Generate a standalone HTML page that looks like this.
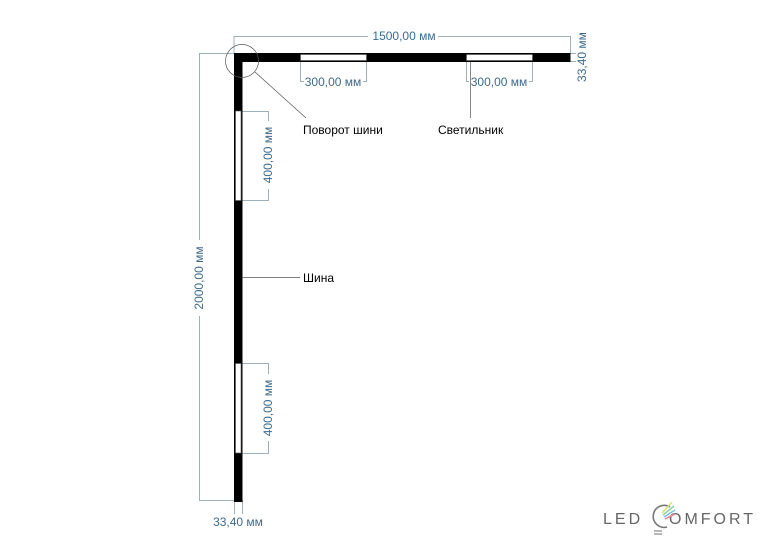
<!DOCTYPE html>
<html><head><meta charset="utf-8"><style>
html,body{margin:0;padding:0;background:#fff;}
svg{display:block;}
.d{fill:#3f6a8c;font-family:"Liberation Sans",sans-serif;font-size:12px;}
.b{fill:#000;font-family:"Liberation Sans",sans-serif;font-size:12px;}
</style></head><body>
<svg width="768" height="550" viewBox="0 0 768 550" xmlns="http://www.w3.org/2000/svg">
<g stroke="#9fb0bc" stroke-width="1" fill="none">
  <polyline points="234,53 234,36.5 368,36.5"/>
  <polyline points="438,36.5 570.5,36.5 570.5,53"/>
  <polyline points="234,53.5 199.5,53.5 199.5,240"/>
  <polyline points="199.5,316 199.5,500.5 234,500.5"/>
  <line x1="234.5" y1="500" x2="234.5" y2="514"/>
  <line x1="242.5" y1="500" x2="242.5" y2="514"/>
  <line x1="570" y1="53.5" x2="576" y2="53.5"/>
  <line x1="570" y1="61.5" x2="576" y2="61.5"/>
  <polyline points="300.5,62 300.5,81.5 304,81.5"/>
  <polyline points="363,81.5 366.5,81.5 366.5,62"/>
  <polyline points="466.5,62 466.5,81.5 469,81.5"/>
  <polyline points="529,81.5 532.5,81.5 532.5,62"/>
  <polyline points="242,111.5 268.5,111.5 268.5,121"/>
  <polyline points="268.5,189 268.5,200.5 242,200.5"/>
  <polyline points="242,363.5 268.5,363.5 268.5,374"/>
  <polyline points="268.5,441 268.5,453.5 242,453.5"/>
</g>
<rect x="234" y="53" width="336.5" height="9" fill="#000"/>
<rect x="234" y="53" width="8.5" height="449" fill="#000"/>
<rect x="300.5" y="54.5" width="66" height="6" fill="#fff" stroke="#555" stroke-width="0.6"/>
<rect x="466.5" y="54.5" width="66" height="6" fill="#fff" stroke="#555" stroke-width="0.6"/>
<rect x="235.5" y="111" width="5.5" height="89.5" fill="#fff" stroke="#555" stroke-width="0.6"/>
<rect x="235.5" y="363.5" width="5.5" height="89.5" fill="#fff" stroke="#555" stroke-width="0.6"/>
<g stroke="#555" stroke-width="0.7" fill="none">
  <circle cx="242" cy="61" r="16.5"/>
  <line x1="255" y1="72" x2="306" y2="118"/>
  <line x1="470.5" y1="62" x2="470.5" y2="118"/>
  <line x1="242" y1="277.5" x2="300" y2="277.5"/>
</g>
<text class="d" x="404" y="40" text-anchor="middle">1500,00 мм</text>
<text class="d" x="333" y="86" text-anchor="middle">300,00 мм</text>
<text class="d" x="499" y="86" text-anchor="middle">300,00 мм</text>
<text class="d" transform="translate(586,57) rotate(-90)" text-anchor="middle">33,40 мм</text>
<text class="d" transform="translate(203,278) rotate(-90)" text-anchor="middle">2000,00 мм</text>
<text class="d" transform="translate(272,155) rotate(-90)" text-anchor="middle">400,00 мм</text>
<text class="d" transform="translate(272,408) rotate(-90)" text-anchor="middle">400,00 мм</text>
<text class="d" x="238" y="526" text-anchor="middle">33,40 мм</text>
<text class="b" x="303" y="134">Поворот шини</text>
<text class="b" x="438" y="134">Светильник</text>
<text class="b" x="303" y="282">Шина</text>
<g font-family="Liberation Sans, sans-serif" font-size="16" fill="#666" letter-spacing="3">
  <text x="603" y="524">LED</text>
  <text x="669" y="524">OMFORT</text>
</g>
<path d="M670,507 A11,11 0 1 0 667,527" stroke="#777" stroke-width="1.6" fill="none"/>
<line x1="654" y1="531" x2="662" y2="531" stroke="#888" stroke-width="1.2"/>
<line x1="654" y1="534" x2="662" y2="534" stroke="#888" stroke-width="1.2"/>
<line x1="662" y1="513" x2="672" y2="502" stroke="#d9e27a" stroke-width="1.6"/>
<line x1="663" y1="515" x2="674" y2="506" stroke="#8fd6a0" stroke-width="1.6"/>
<line x1="664" y1="517" x2="675" y2="510" stroke="#7fc0e6" stroke-width="1.6"/>
<line x1="665" y1="519" x2="675" y2="514" stroke="#e88b9a" stroke-width="1.6"/>
</svg>
</body></html>
